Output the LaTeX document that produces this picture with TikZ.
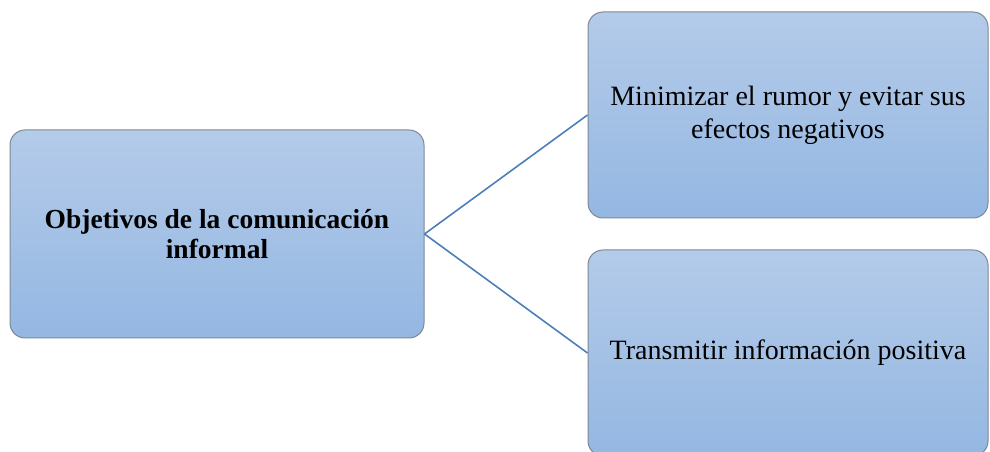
\documentclass[tikz,border=0pt]{standalone}
\usepackage{fontspec}
\setmainfont{Liberation Serif}
\usetikzlibrary{positioning}

\definecolor{boxtop}{RGB}{180,203,233}
\definecolor{boxbottom}{RGB}{148,183,226}
\definecolor{boxline}{RGB}{125,136,148}
\definecolor{linkblue}{RGB}{76,127,184}

\tikzset{
  goalbox/.style={draw=boxline, line width=1pt, rounded corners=15pt,
    top color=boxtop, bottom color=boxbottom, align=center,
    font=\fontsize{28}{33}\selectfont, inner sep=0pt},
  link/.style={draw=linkblue, line width=1.6pt}
}

\begin{document}
\begin{tikzpicture}[x=1pt,y=1pt]

\useasboundingbox (0,0) rectangle (990,452);

\node[goalbox, minimum width=414pt, minimum height=208pt, font=\fontsize{27.5}{30}\selectfont\bfseries] (obj) at (217,218) {Objetivos de la comunicación\\informal};

\node[goalbox, minimum width=400pt, minimum height=206pt] (rumor) at (788,337) {Minimizar el rumor y evitar sus\\efectos negativos};
\node[goalbox, minimum width=400pt, minimum height=206pt] (info) at (788,99) {Transmitir información positiva};

\draw[link] (obj.east) -- (rumor.west);
\draw[link] (obj.east) -- (info.west);

\end{tikzpicture}
\end{document}
